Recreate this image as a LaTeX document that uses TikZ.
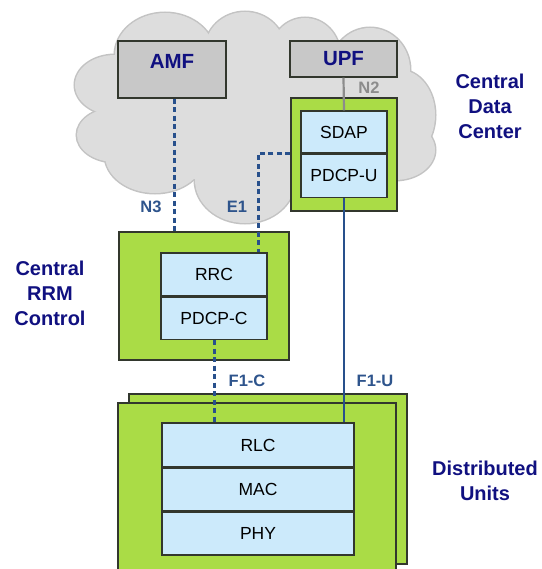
\documentclass[tikz,border=0pt]{standalone}
\usepackage{fontspec}
\setmainfont{Liberation Sans}
\begin{document}
\begin{tikzpicture}[x=1pt,y=-1pt,
  cloudline/.style={draw=cloudedge,line width=3pt},
  cloudfill/.style={fill=cloudgray},
  greenbox/.style={draw=boxedge,line width=1.4pt,fill=dugreen},
  nfbox/.style={draw=boxedge,line width=1.4pt,fill=nfgray},
  layerbox/.style={draw=boxedge,line width=1.4pt,fill=layerblue,font=\fontsize{17.5}{20}\selectfont,text=black},
  nftext/.style={font=\bfseries\fontsize{20.5}{24}\selectfont,text=navy},
  sitetext/.style={font=\bfseries\fontsize{20}{25}\selectfont,text=navy,align=center},
  iflabel/.style={font=\bfseries\fontsize{16.5}{20}\selectfont,text=ifblue},
  ctrl/.style={draw=linkblue,line width=3pt,dash pattern=on 5pt off 3.5pt},
  user/.style={draw=linkblue,line width=2.2pt},
]
\definecolor{cloudgray}{RGB}{221,221,221}
\definecolor{cloudedge}{RGB}{195,195,195}
\definecolor{dugreen}{RGB}{170,220,70}
\definecolor{boxedge}{RGB}{50,55,45}
\definecolor{nfgray}{RGB}{200,200,200}
\definecolor{layerblue}{RGB}{204,234,251}
\definecolor{navy}{RGB}{16,16,128}
\definecolor{ifblue}{RGB}{46,84,140}
\definecolor{linkblue}{RGB}{40,80,140}
\definecolor{n2gray}{RGB}{140,140,140}

\useasboundingbox (0,0) rectangle (541,569);
\clip (0,0) rectangle (541,569);

% cloud: outline pass, then fill pass
\foreach \cx/\cy/\rx/\ry in {165/55/50/42, 245/50/40/38, 305/55/35/37, 370/70/40/42,
  400/115/35/45, 395/150/40/30, 245/180/50/43, 155/155/50/38, 115/85/40/30,
  115/135/38/27, 250/115/135/70}
  \path[cloudline] (\cx,\cy) ellipse [x radius=\rx, y radius=\ry];
\foreach \cx/\cy/\rx/\ry in {165/55/50/42, 245/50/40/38, 305/55/35/37, 370/70/40/42,
  400/115/35/45, 395/150/40/30, 245/180/50/43, 155/155/50/38, 115/85/40/30,
  115/135/38/27, 250/115/135/70}
  \path[cloudfill] (\cx,\cy) ellipse [x radius=\rx, y radius=\ry];

% core network functions
\node[nfbox,minimum width=108pt,minimum height=57pt] (amf) at (172,69.5) {};
\node[nftext] (amftext) at (172,61) {AMF};
\node[nfbox,nftext,minimum width=107pt,minimum height=36pt] (upf) at (343.5,59) {UPF};

% CU-UP
\node[greenbox,minimum width=106pt,minimum height=113pt] (cuup) at (344,154.5) {};
\node[layerbox,minimum width=86pt,minimum height=42pt] (sdap) at (344,132) {SDAP};
\node[layerbox,minimum width=86pt,minimum height=43pt,anchor=north] (pdcpu) at (sdap.south) {PDCP-U};

% CU-CP
\node[greenbox,minimum width=170pt,minimum height=128pt] (cucp) at (204,296) {};
\node[layerbox,minimum width=106pt,minimum height=43pt] (rrc) at (214,274.5) {RRC};
\node[layerbox,minimum width=106pt,minimum height=42pt,anchor=north] (pdcpc) at (rrc.south) {PDCP-C};

% distributed units (stacked)
\node[greenbox,minimum width=278pt,minimum height=170pt] (duback) at (268,479) {};
\node[greenbox,minimum width=278pt,minimum height=172pt] (du) at (257,489) {};
\node[layerbox,minimum width=192pt,minimum height=44pt] (rlc) at (258,445) {RLC};
\node[layerbox,minimum width=192pt,minimum height=42pt,anchor=north] (mac) at (rlc.south) {MAC};
\node[layerbox,minimum width=192pt,minimum height=43pt,anchor=north] (phy) at (mac.south) {PHY};

% interfaces
\draw[draw=n2gray,line width=2.2pt] (upf.south) -- (sdap.north);
\draw[ctrl] ([xshift=2pt]amf.south) -- ([xshift=2pt]amf.south |- cucp.north);
\coordinate (e1end) at ([xshift=44pt]rrc.north);
\draw[ctrl] (cuup.west |- sdap.south) -| (e1end);
\draw[ctrl] (pdcpc.south) -- (pdcpc.south |- rlc.north);
\draw[user] (pdcpu.south) -- (pdcpu.south |- rlc.north);

% interface labels
\node[iflabel,text=n2gray] (n2) at (369,88) {N2};
\node[iflabel] (n3) at (151,207) {N3};
\node[iflabel] (e1) at (237,207) {E1};
\node[iflabel] (f1c) at (247,381) {F1-C};
\node[iflabel] (f1u) at (375,381) {F1-U};

% site labels
\node[sitetext] (dc) at (490,106) {Central\\Data\\Center};
\node[sitetext] (rrm) at (50,293) {Central\\RRM\\Control};
\node[sitetext] (dus) at (485,481) {Distributed\\Units};
\end{tikzpicture}
\end{document}
